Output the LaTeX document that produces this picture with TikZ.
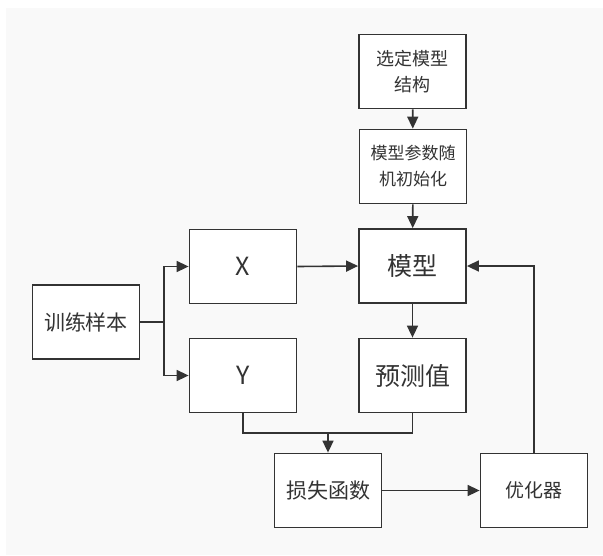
\documentclass[tikz,border=0pt]{standalone}
\usepackage{fontspec}
\newfontfamily\cjk{Noto Sans CJK SC}
\usetikzlibrary{arrows.meta}
\definecolor{ink}{HTML}{333333}
\definecolor{bg}{HTML}{F9F9F9}
\tikzset{
  box/.style={draw=ink, line width=1.8pt, fill=white, rectangle, minimum width=107pt, minimum height=74pt, inner sep=0pt, align=center, text=ink, font=\cjk},
  conn/.style={draw=ink, line width=1.6pt},
  arr/.style={conn, -{Triangle[length=12pt,width=11pt]}},
  fbig/.style={font=\cjk\fontsize{25}{30}\selectfont},
  fmid/.style={font=\cjk\fontsize{21}{26}\selectfont},
  fsm/.style={font=\cjk\fontsize{19}{24}\selectfont},
  ftwo/.style={font=\cjk\fontsize{18}{26}\selectfont},
  fthree/.style={font=\cjk\fontsize{17}{26}\selectfont},
}
\begin{document}
\begin{tikzpicture}[x=1pt,y=-1pt]
\useasboundingbox (0,0) rectangle (603,555);
\fill[white] (0,0) rectangle (603,555);
\fill[bg] (6,8) rectangle (603,555);
\node[box, ftwo] (sel) at (412.5,71.5) {选定模型\\结构};
\node[box, fthree] (init) at (413,166.5) {模型参数随\\机初始化};
\node[box, fbig] (model) at (412.5,266) {模型};
\node[box, fbig] (X) at (243,266.5) {X};
\node[box, fbig] (Y) at (243,375.5) {Y};
\node[box, fbig] (pred) at (412.5,375.5) {预测值};
\node[box, fmid] (train) at (86,322) {训练样本};
\node[box, fmid] (loss) at (328,490.5) {损失函数};
\node[box, fsm] (opt) at (534,490.5) {优化器};
\coordinate (br) at (164,322);
\coordinate (j) at (328,433);
\draw[arr] (sel) -- (init);
\draw[arr] (init) -- (model);
\draw[conn] (train.east) -- (br);
\draw[arr] (br) |- (X.west);
\draw[arr] (br) |- (Y.west);
\draw[arr] (X.east) -- (model.west);
\draw[arr] (model) -- (pred);
\draw[conn] (Y.south) |- (j) -| (pred.south);
\draw[arr] (j) -- (loss.north);
\draw[arr] (loss.east) -- (opt.west);
\draw[arr] (opt.north) |- (model.east);
\end{tikzpicture}
\end{document}
